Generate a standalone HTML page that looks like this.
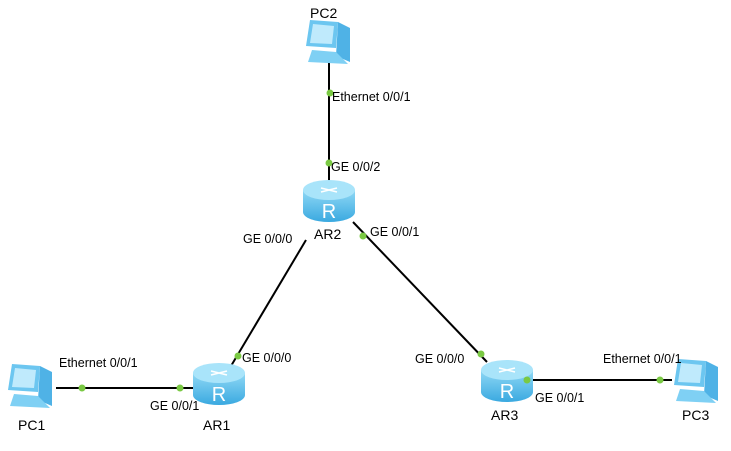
<!DOCTYPE html>
<html><head><meta charset="utf-8"><style>
body{margin:0;background:#fff;width:731px;height:446px;overflow:hidden}
text{font-family:"Liberation Sans",sans-serif;font-size:12.5px;fill:#000}
.n{font-size:14px}
</style></head><body>
<svg width="731" height="446" viewBox="0 0 731 446">
<defs>
<linearGradient id="rg" x1="0" y1="0" x2="0" y2="1"><stop offset="0" stop-color="#8fd8f5"/><stop offset="1" stop-color="#3aa9e0"/></linearGradient>
<g id="router">
<path d="M-26,-10 L-26,12 A26,10 0 0 0 26,12 L26,-10 Z" fill="url(#rg)"/>
<ellipse cx="0" cy="-10" rx="26" ry="10" fill="#a9e4fa"/>
<path d="M-8,-12 l16,4 M8,-12 l-16,4" stroke="#fff" stroke-width="1.5"/>
<text x="0" y="18" text-anchor="middle" style="font-size:20px;fill:#fff">R</text>
</g>
<g id="pc">
<path d="M-18,-22 L10,-20 L8,6 L-22,4 Z" fill="#6cc6f0"/>
<path d="M-15,-18 L6,-16 L4,2 L-18,1 Z" fill="#bfeafc"/>
<path d="M10,-20 L22,-14 L22,20 L8,14 Z" fill="#4fb2e6"/>
<path d="M-16,8 L8,10 L20,22 L-20,20 Z" fill="#7fd0f4"/>
</g>
</defs>
<g stroke="#000" stroke-width="2">
<line x1="329" y1="62" x2="329" y2="182"/>
<line x1="306" y1="240" x2="231" y2="366"/>
<line x1="353" y1="222" x2="487" y2="362"/>
<line x1="56" y1="388" x2="196" y2="388"/>
<line x1="530" y1="380" x2="672" y2="380"/>
</g>
<use href="#router" x="329" y="200"/>
<use href="#router" x="219" y="383"/>
<use href="#router" x="507" y="380"/>
<use href="#pc" x="328" y="42"/>
<use href="#pc" x="30" y="386"/>
<use href="#pc" x="696" y="381"/>
<g fill="#7ac943">
<circle cx="330" cy="93" r="3.5"/><circle cx="329" cy="163" r="3.5"/>
<circle cx="363" cy="236" r="3.5"/><circle cx="238" cy="356" r="3.5"/>
<circle cx="481" cy="354" r="3.5"/><circle cx="527" cy="380" r="3.5"/>
<circle cx="660" cy="380" r="3.5"/><circle cx="82" cy="388" r="3.5"/>
<circle cx="180" cy="388" r="3.5"/>
</g>
<text class="n" x="310" y="18">PC2</text>
<text x="332" y="101">Ethernet 0/0/1</text>
<text x="331" y="171">GE 0/0/2</text>
<text x="243" y="243">GE 0/0/0</text>
<text class="n" x="314" y="239">AR2</text>
<text x="370" y="236">GE 0/0/1</text>
<text x="242" y="362">GE 0/0/0</text>
<text x="59" y="367">Ethernet 0/0/1</text>
<text x="150" y="410">GE 0/0/1</text>
<text class="n" x="18" y="430">PC1</text>
<text class="n" x="203" y="430">AR1</text>
<text x="415" y="363">GE 0/0/0</text>
<text class="n" x="491" y="420">AR3</text>
<text x="535" y="402">GE 0/0/1</text>
<text x="603" y="363">Ethernet 0/0/1</text>
<text class="n" x="682" y="420">PC3</text>
</svg>
</body></html>
